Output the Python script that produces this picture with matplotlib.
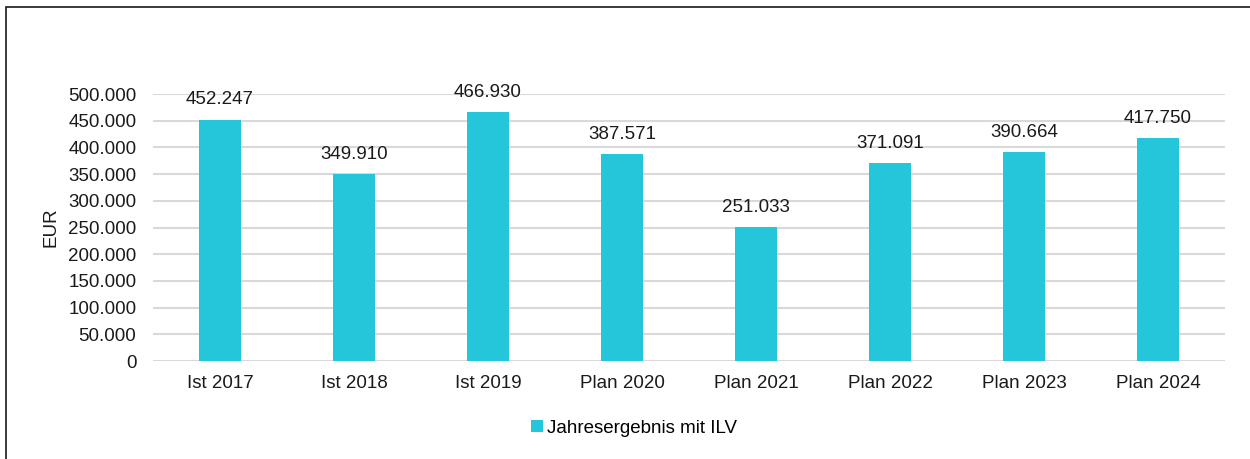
import matplotlib
matplotlib.use("Agg")
import matplotlib.pyplot as plt
from matplotlib.patches import Rectangle
from matplotlib.ticker import FuncFormatter, MultipleLocator

plt.rcParams['font.family'] = ['Liberation Sans', 'DejaVu Sans']

categories = ['Ist 2017', 'Ist 2018', 'Ist 2019', 'Plan 2020', 'Plan 2021',
              'Plan 2022', 'Plan 2023', 'Plan 2024']
values = [452247, 349910, 466930, 387571, 251033, 371091, 390664, 417750]
series_name = 'Jahresergebnis mit ILV'

bar_color = '#26C6DA'
grid_color = '#d9d9d9'
text_color = '#1a1a1a'
fs = 13.5


def de_thousands(v, pos=None):
    return f'{int(round(v)):,}'.replace(',', '.')


fig = plt.figure(figsize=(12.5, 4.59), dpi=100)
ax = fig.add_axes([0.1224, 0.2135, 0.98 - 0.1224, 0.7952 - 0.2135])

x = range(len(categories))
bars = ax.bar(x, values, width=0.31, color=bar_color, label=series_name, zorder=3)

for b, v in zip(bars, values):
    ax.annotate(de_thousands(v), (b.get_x() + b.get_width() / 2, v),
                xytext=(0, 8), textcoords='offset points',
                ha='center', va='bottom', fontsize=fs, color=text_color)

ax.set_xlim(-0.5, len(categories) - 0.5)
ax.set_ylim(0, 500000)
ax.yaxis.set_major_locator(MultipleLocator(50000))
ax.yaxis.set_major_formatter(FuncFormatter(de_thousands))
ax.set_xticks(list(x))
ax.set_xticklabels(categories)
ax.tick_params(axis='both', length=0, labelsize=fs, colors=text_color)
ax.tick_params(axis='y', pad=12)
ax.tick_params(axis='x', pad=10)
ax.yaxis.grid(True, color=grid_color, linewidth=1.5, zorder=0)
for s in ax.spines.values():
    s.set_visible(False)
ax.set_ylabel('EUR', fontsize=fs, color=text_color, labelpad=6)

fig.legend(handles=[bars], labels=[series_name], loc='center',
           bbox_to_anchor=(0.507, 0.0675), frameon=False, fontsize=fs,
           handlelength=0.65, handleheight=0.65, handletextpad=0.2)

# outer chart frame, open to the right and bottom edge
fig.patches.append(Rectangle((6 / 1250, -0.05), 1.1, 1 - 7 / 459 + 0.05,
                             transform=fig.transFigure, fill=False,
                             edgecolor=text_color, linewidth=1.2))

fig.savefig('out.png', dpi=100)
